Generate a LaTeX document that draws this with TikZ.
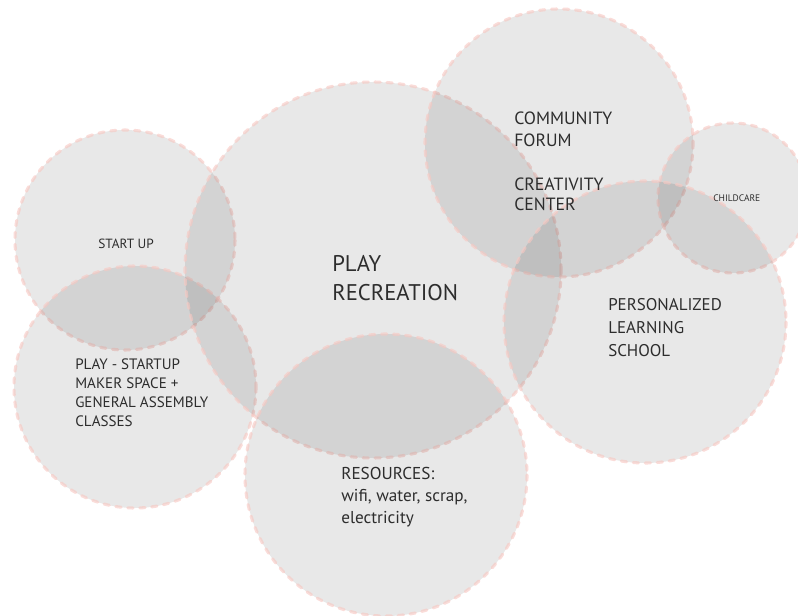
\documentclass[tikz,border=0pt]{standalone}
\usepackage{fontspec}
\setmainfont{PT Sans}
\definecolor{rimpink}{RGB}{248,200,194}
\definecolor{inktext}{RGB}{45,45,45}
\tikzset{
  bubble/.style={fill=black, fill opacity=0.09, draw=rimpink, draw opacity=0.62,
    line width=2.3pt, line cap=round, dash pattern=on 4pt off 5pt},
  label/.style={anchor=base west, inner sep=0pt, align=left, text=inktext},
}
\begin{document}
\begin{tikzpicture}[x=0.75pt, y=-0.75pt]
  \useasboundingbox (0,0) rectangle (798,616);
  \fill[white] (0,0) rectangle (798,616);

  % overlapping zones
  \path[bubble] (125,240) circle[radius=110];   % start up
  \path[bubble] (135,387) circle[radius=121];   % play - startup
  \path[bubble] (373,270) circle[radius=188];   % play recreation
  \path[bubble] (386,475) circle[radius=141];   % resources
  \path[bubble] (559,143) circle[radius=134];   % community / creativity
  \path[bubble] (733,198) circle[radius=75];    % childcare
  \path[bubble] (645,322) circle[radius=141];   % personalized learning

  % zone labels (anchored at the baseline of the last line)
  \node[label, font=\fontsize{10pt}{12pt}\selectfont] (startup) at (98,248) {START UP};
  \node[label, font=\fontsize{17pt}{21pt}\selectfont] (play) at (332,300) {PLAY\\RECREATION};
  \node[label, font=\fontsize{13.3pt}{17pt}\selectfont] (forum) at (514,147) {COMMUNITY\\FORUM};
  \node[label, font=\fontsize{13.3pt}{15pt}\selectfont] (creative) at (514,211) {CREATIVITY\\CENTER};
  \node[label, font=\fontsize{7.1pt}{8pt}\selectfont] (childcare) at (713,202) {CHILDCARE};
  \node[label, font=\fontsize{12.7pt}{17pt}\selectfont] (school) at (608,356) {PERSONALIZED\\LEARNING\\SCHOOL};
  \node[label, font=\fontsize{11.3pt}{14.2pt}\selectfont] (maker) at (75,426) {PLAY - STARTUP\\MAKER SPACE +\\GENERAL ASSEMBLY\\CLASSES};
  \node[label, font=\fontsize{12.9pt}{16.5pt}\selectfont] (resources) at (341,523) {RESOURCES:\\wifi, water, scrap,\\electricity};
\end{tikzpicture}
\end{document}
